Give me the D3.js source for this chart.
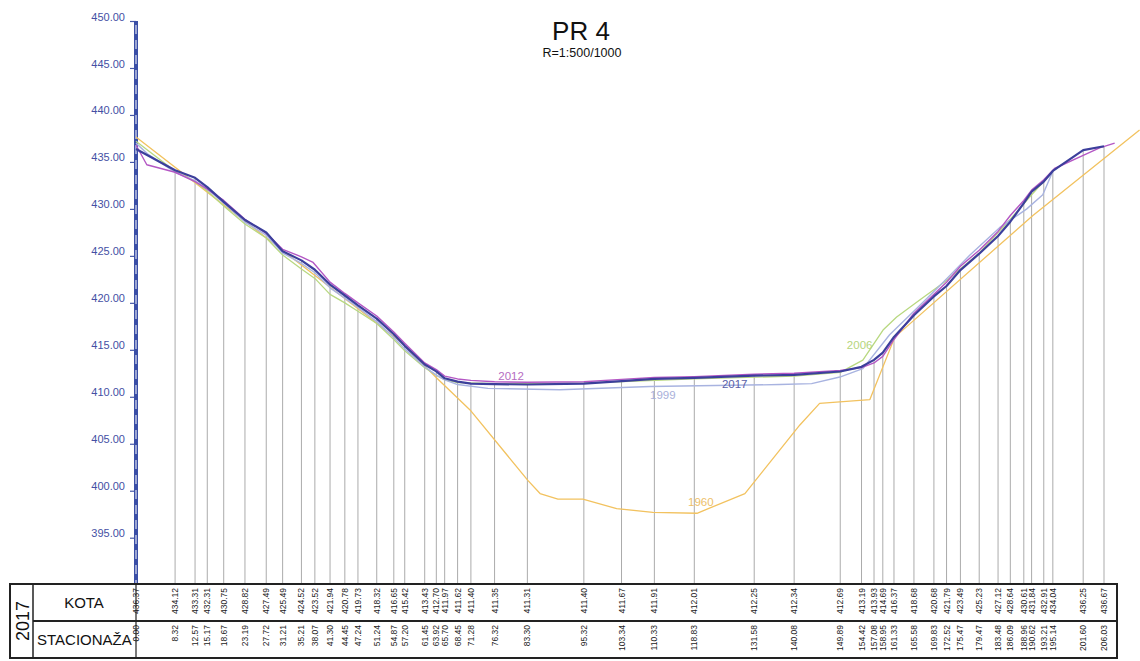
<!DOCTYPE html>
<html>
<head>
<meta charset="utf-8">
<script src="https://cdn.jsdelivr.net/npm/d3@7"></script>
<style>
  html, body { margin: 0; padding: 0; background: #fff; }
  svg { display: block; font-family: "Liberation Sans", Arial, sans-serif; }
</style>
</head>
<body>
<svg id="chart" width="1140" height="661"></svg>
<script>
// ---------- DATA ----------
const yTicks = [450, 445, 440, 435, 430, 425, 420, 415, 410, 405, 400, 395];

// 2017 survey (table values)
const stations2017 = [0.00, 8.32, 12.57, 15.17, 18.67, 23.19, 27.72, 31.21, 35.21, 38.07, 41.30, 44.45, 47.24, 51.24, 54.87, 57.20, 61.45, 63.92, 65.70, 68.45, 71.28, 76.32, 83.30, 95.32, 103.34, 110.33, 118.83, 131.58, 140.08, 149.89, 154.42, 157.08, 158.95, 161.33, 165.58, 169.83, 172.52, 175.47, 179.47, 183.48, 186.09, 188.96, 190.62, 193.21, 195.14, 201.60, 206.03];
const kota2017 = [436.37, 434.12, 433.31, 432.31, 430.75, 428.82, 427.49, 425.49, 424.52, 423.52, 421.94, 420.78, 419.73, 418.32, 416.65, 415.42, 413.43, 412.70, 411.97, 411.62, 411.40, 411.35, 411.31, 411.40, 411.67, 411.91, 412.01, 412.25, 412.34, 412.69, 413.19, 413.93, 414.69, 416.37, 418.68, 420.68, 421.79, 423.49, 425.23, 427.12, 428.64, 430.61, 431.84, 432.91, 434.04, 436.25, 436.67];

// 2012 survey
const stations2012 = [0, 2.3, 8.32, 12.57, 15.17, 18.67, 23.19, 27.72, 31.21, 35.21, 37.7, 41.30, 44.45, 47.24, 51.24, 54.87, 57.20, 61.45, 63.92, 65.70, 68.45, 71.28, 76.32, 83.30, 95.32, 103.34, 110.33, 118.83, 131.58, 140.08, 149.89, 154.42, 157.08, 158.95, 161.33, 165.58, 169.83, 172.52, 175.47, 179.47, 183.48, 186.09, 188.96, 190.62, 193.21, 195.5, 201.6, 205.1, 208.3];
const kota2012 = [436.8, 434.7, 433.9, 432.9, 432.1, 430.9, 428.9, 427.4, 425.7, 424.9, 424.3, 422.2, 421.0, 420.0, 418.6, 416.9, 415.7, 413.6, 412.9, 412.2, 411.9, 411.75, 411.6, 411.55, 411.6, 411.85, 412.05, 412.15, 412.4, 412.5, 412.8, 413.1, 413.6, 414.3, 416.1, 418.9, 420.9, 422.2, 423.9, 425.6, 427.6, 429.3, 430.9, 432.0, 433.1, 434.3, 435.7, 436.5, 437.0];

// 2006 survey
const stations2006 = [0, 8.32, 12.57, 15.17, 18.67, 23.19, 27.72, 31.21, 35.21, 38.07, 41.30, 44.45, 47.24, 51.24, 54.87, 57.20, 61.45, 63.92, 65.70, 68.45, 76.32, 95.32, 118.83, 140.08, 149.89, 154.7, 159.0, 161.9, 166.8, 172.6, 179.47, 186.09, 190.62, 195.14];
const kota2006 = [437.2, 434.0, 432.9, 431.9, 430.3, 428.4, 426.9, 425.1, 423.6, 422.6, 420.9, 420.0, 419.1, 417.8, 416.1, 414.9, 413.1, 412.3, 411.8, 411.5, 411.4, 411.45, 411.9, 412.2, 412.6, 413.9, 417.1, 418.5, 420.3, 422.4, 425.3, 428.9, 431.5, 434.0];

// 1999 survey
const stations1999 = [0, 2.6, 8.32, 12.57, 15.17, 18.67, 23.19, 27.72, 31.21, 35.21, 38.07, 41.30, 44.45, 47.24, 51.24, 54.87, 57.20, 61.45, 63.92, 65.70, 68.45, 74.9, 90.2, 109.4, 137.0, 143.8, 149.8, 154.7, 160.4, 167.4, 172.6, 177.5, 183.8, 189.6, 193.0, 195.14];
const kota1999 = [437.0, 435.8, 433.9, 433.0, 432.1, 430.6, 428.6, 427.2, 425.3, 424.2, 423.2, 421.6, 420.5, 419.5, 418.0, 416.3, 415.1, 413.2, 412.3, 411.8, 411.3, 410.9, 410.75, 411.1, 411.3, 411.4, 412.1, 413.0, 416.6, 420.0, 422.6, 425.1, 428.0, 430.0, 431.5, 434.0];

// 1960 survey
const stations1960 = [0, 56.2, 64.0, 71.1, 83.4, 86.0, 89.8, 95.1, 102.3, 110.0, 119.4, 129.6, 141.3, 145.5, 156.2, 161.5, 190.9, 213.6];
const kota1960 = [437.65, 415.9, 412.0, 408.6, 401.1, 399.7, 399.1, 399.1, 398.1, 397.7, 397.6, 399.7, 407.0, 409.3, 409.7, 416.35, 429.3, 438.4];

const seriesLabels = [
  { text: "2012", s: 77.1, v: 411.8, color: "#b56cc2" },
  { text: "2017", s: 124.7, v: 410.9, color: "#5a5ea8" },
  { text: "1999", s: 109.4, v: 409.74, color: "#a9b0da" },
  { text: "1960", s: 117.5, v: 398.35, color: "#edc06a" },
  { text: "2006", s: 151.3, v: 415.1, color: "#b5d57c" }
];

// ---------- LAYOUT ----------
const svg = d3.select("#chart");
const x = d3.scaleLinear().domain([0, 206.03]).range([136, 1104]);
const y = d3.scaleLinear().domain([395, 450]).range([537.7, 21]);
const tableTop = 584, tableMid = 621, tableBottom = 658, tableLeft = 10, tableRight = 1117;

// title
svg.append("text").attr("x", 581).attr("y", 40).attr("text-anchor", "middle")
  .attr("font-size", 26).attr("fill", "#111").text("PR 4");
svg.append("text").attr("x", 582).attr("y", 57).attr("text-anchor", "middle")
  .attr("font-size", 12.5).attr("fill", "#111").text("R=1:500/1000");

// vertical station lines
const pts2017 = stations2017.map((s, i) => ({ s, v: kota2017[i] }));
svg.append("g").selectAll("line").data(pts2017).join("line")
  .attr("x1", d => x(d.s)).attr("x2", d => x(d.s))
  .attr("y1", d => y(d.v)).attr("y2", tableTop)
  .attr("stroke", "#ababab").attr("stroke-width", 1);

// y axis
const axisG = svg.append("g").attr("transform", "translate(136,0)");
axisG.call(d3.axisLeft(y).tickValues(yTicks).tickFormat(d3.format(".2f")).tickSize(6).tickSizeOuter(0));
axisG.select(".domain").remove();
axisG.selectAll(".tick line").attr("stroke", "#4658a8").attr("stroke-width", 1.2);
axisG.selectAll(".tick text").attr("fill", "#4450a4").attr("font-size", 11)
  .attr("font-family", "'Liberation Sans', Arial, sans-serif").attr("x", -11).attr("dy", "0.32em")
  .attr("transform", "translate(0,-4.5)");
svg.append("line").attr("x1", 136).attr("x2", 136).attr("y1", y(450)).attr("y2", tableTop)
  .attr("stroke", "#3a4ea6").attr("stroke-width", 4);
svg.append("line").attr("x1", 136).attr("x2", 136).attr("y1", y(450) + 4).attr("y2", tableTop)
  .attr("stroke", "#ffffff").attr("stroke-width", 1).attr("stroke-dasharray", "9,6");

// profile lines
const line = d3.line().x(d => x(d.s)).y(d => y(d.v));
const mk = (ss, vv) => ss.map((s, i) => ({ s, v: vv[i] }));
const series = [
  { data: mk(stations1960, kota1960), color: "#f2c25f", w: 1.3 },
  { data: mk(stations2006, kota2006), color: "#b8d880", w: 1.3 },
  { data: mk(stations1999, kota1999), color: "#a8b3e0", w: 1.4 },
  { data: mk(stations2012, kota2012), color: "#b457c4", w: 1.4 },
  { data: pts2017, color: "#3c3f9c", w: 2.2 }
];
svg.append("g").selectAll("path").data(series).join("path")
  .attr("d", d => line(d.data)).attr("fill", "none")
  .attr("stroke", d => d.color).attr("stroke-width", d => d.w)
  .attr("stroke-linejoin", "round");

// series labels
svg.append("g").selectAll("text").data(seriesLabels).join("text")
  .attr("x", d => x(d.s)).attr("y", d => y(d.v))
  .attr("font-size", 11.5).attr("fill", d => d.color).text(d => d.text);

// table
const tg = svg.append("g");
tg.append("rect").attr("x", tableLeft).attr("y", tableTop)
  .attr("width", tableRight - tableLeft).attr("height", tableBottom - tableTop)
  .attr("fill", "none").attr("stroke", "#222").attr("stroke-width", 2);
tg.append("line").attr("x1", 33).attr("x2", 33).attr("y1", tableTop).attr("y2", tableBottom)
  .attr("stroke", "#222").attr("stroke-width", 1.5);
tg.append("line").attr("x1", 33).attr("x2", tableRight).attr("y1", tableMid).attr("y2", tableMid)
  .attr("stroke", "#222").attr("stroke-width", 2);
tg.append("line").attr("x1", 136).attr("x2", 136).attr("y1", tableTop).attr("y2", tableBottom)
  .attr("stroke", "#222").attr("stroke-width", 1.2);

tg.append("text").attr("transform", "translate(29,621) rotate(-90)").attr("text-anchor", "middle")
  .attr("font-size", 18).attr("fill", "#111").text("2017");
tg.append("text").attr("x", 84).attr("y", 608).attr("text-anchor", "middle")
  .attr("font-size", 15).attr("fill", "#111").text("KOTA");
tg.append("text").attr("x", 37).attr("y", 645).attr("text-anchor", "start")
  .attr("font-size", 15).attr("fill", "#111").text("STACIONAŽA");

tg.append("g").selectAll("text").data(pts2017).join("text")
  .attr("transform", d => `translate(${x(d.s) + 3},588) rotate(-90)`)
  .attr("text-anchor", "end").attr("font-size", 8.5).attr("fill", "#1a1a1a")
  .text(d => d.v.toFixed(2));
tg.append("g").selectAll("text").data(pts2017).join("text")
  .attr("transform", d => `translate(${x(d.s) + 3},625) rotate(-90)`)
  .attr("text-anchor", "end").attr("font-size", 8.5).attr("fill", "#1a1a1a")
  .text(d => d.s.toFixed(2));
</script>
</body>
</html>
